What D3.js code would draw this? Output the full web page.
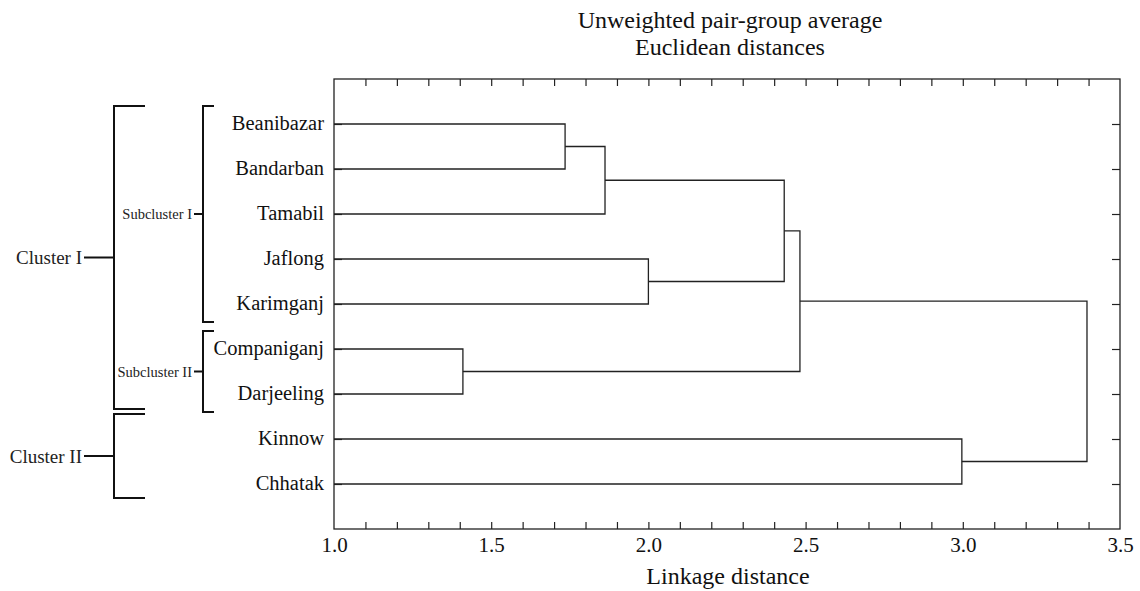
<!DOCTYPE html>
<html lang="en">
<head>
    <meta charset="UTF-8">
    <style>
        body { margin: 0; background: #fff; }
        svg { font-family: "Liberation Serif", "Times New Roman", serif; }
        .frame { fill: none; stroke: #222; stroke-width: 1.3px; }
        .link { fill: none; stroke: #222; stroke-width: 1.3px; }
        .bracket { fill: none; stroke: #111; stroke-width: 2px; }
        .axis path { display: none; }
        .axis line { stroke: #222; stroke-width: 1.2px; }
    </style>
</head>
<body>
    <svg width="1140" height="591"></svg>
    <script src="https://cdn.jsdelivr.net/npm/d3@7"></script>
    <script>

        // leaves, top to bottom
        var leaves = ["Beanibazar", "Bandarban", "Tamabil", "Jaflong", "Karimganj",
                      "Companiganj", "Darjeeling", "Kinnow", "Chhatak"];

        // merges: children (leaf index or "m" + merge index) and linkage distance
        var mergeLeft  = [0,     "m0",  3,     "m1",  5,     "m3",  7,     "m5"];
        var mergeRight = [1,     2,     4,     "m2",  6,     "m4",  8,     "m6"];
        var mergeDist  = [1.735, 1.862, 2.0,   2.432, 1.41,  2.482, 2.997, 3.395];

        var xTicks = [1.0, 1.5, 2.0, 2.5, 3.0, 3.5];

        var titleLines = ["Unweighted pair-group average", "Euclidean distances"];
        var xTitle = "Linkage distance";

        // groups drawn as brackets on the left: first leaf, last leaf
        var subclusters = [
            {label: "Subcluster I", from: 0, to: 4},
            {label: "Subcluster II", from: 5, to: 6}
        ];
        var clusters = [
            {label: "Cluster I", from: 0, to: 6},
            {label: "Cluster II", from: 7, to: 8}
        ];

        // bracket overhang above first / below last leaf, px
        var subPad = [[18, 18], [18, 18]];
        var clusterPad = [[18, 15], [25, 14]];

        var svg = d3.select("svg"),
            margin = {top: 79, right: 20, bottom: 62, left: 334},
            width = +svg.attr("width") - margin.left - margin.right,
            height = +svg.attr("height") - margin.top - margin.bottom,
            g = svg.append("g").attr("transform", "translate(" + margin.left + "," + margin.top + ")");

        var x = d3.scaleLinear().domain([1.0, 3.5]).range([0, width]);
        var y = d3.scaleLinear().domain([0, leaves.length + 1]).range([0, height]);

        // frame
        g.append("rect").attr("class", "frame")
            .attr("width", width).attr("height", height);

        // minor ticks, every 0.1, inside the frame top and bottom
        var minor = d3.range(11, 35).map(function(d) { return d / 10; });
        g.append("g").attr("class", "axis")
            .attr("transform", "translate(0," + height + ")")
            .call(d3.axisTop(x).tickValues(minor).tickSize(7).tickFormat(""));
        g.append("g").attr("class", "axis")
            .call(d3.axisBottom(x).tickValues(minor).tickSize(7).tickFormat(""));

        // tick labels
        var xAxis = g.append("g").attr("class", "axis")
            .attr("transform", "translate(0," + height + ")")
            .call(d3.axisBottom(x).tickValues(xTicks).tickSize(0).tickPadding(8)
                .tickFormat(d3.format(".1f")));
        xAxis.selectAll("text")
            .style("font-family", "'Liberation Serif', serif")
            .style("font-size", "21px")
            .attr("fill", "#111");

        // leaf ticks left and right
        var leafPos = leaves.map(function(d, i) { return i + 1; });
        g.append("g").attr("class", "axis")
            .call(d3.axisRight(y).tickValues(leafPos).tickSize(8).tickFormat(""));
        g.append("g").attr("class", "axis")
            .attr("transform", "translate(" + width + ",0)")
            .call(d3.axisLeft(y).tickValues(leafPos).tickSize(8).tickFormat(""));

        // leaf labels
        g.selectAll(".leaf")
            .data(leaves)
            .enter().append("text")
            .attr("class", "leaf")
            .attr("x", -10)
            .attr("y", function(d, i) { return y(i + 1); })
            .attr("dy", "0.3em")
            .attr("text-anchor", "end")
            .style("font-size", "20.5px")
            .attr("fill", "#111")
            .text(function(d) { return d; });

        // build dendrogram nodes
        var nodes = [];
        function node(ref) {
            if (typeof ref === "number") return {pos: ref + 1, dist: 1.0};
            return nodes[+ref.slice(1)];
        }
        mergeDist.forEach(function(d, i) {
            var a = node(mergeLeft[i]), b = node(mergeRight[i]);
            nodes.push({a: a, b: b, dist: d, pos: (a.pos + b.pos) / 2});
        });

        g.selectAll(".link")
            .data(nodes)
            .enter().append("path")
            .attr("class", "link")
            .attr("d", function(d) {
                return "M" + x(d.a.dist) + "," + y(d.a.pos) +
                    "H" + x(d.dist) +
                    "V" + y(d.b.pos) +
                    "H" + x(d.b.dist);
            });

        // brackets on the left (page coordinates)
        function bracket(list, pads, bx, armLen, tickLen, fontSize) {
            list.forEach(function(c, i) {
                var y0 = margin.top + y(c.from + 1) - pads[i][0],
                    y1 = margin.top + y(c.to + 1) + pads[i][1],
                    ym = (y0 + y1) / 2;
                svg.append("path").attr("class", "bracket")
                    .attr("d", "M" + (bx + armLen) + "," + y0 + "H" + bx + "V" + y1 + "H" + (bx + armLen));
                svg.append("path").attr("class", "bracket")
                    .attr("d", "M" + (bx - tickLen) + "," + ym + "H" + bx);
                svg.append("text")
                    .attr("x", bx - tickLen - 2)
                    .attr("y", ym)
                    .attr("dy", "0.35em")
                    .attr("text-anchor", "end")
                    .style("font-size", fontSize + "px")
                    .attr("fill", "#222")
                    .text(c.label);
            });
        }
        bracket(subclusters, subPad, 203, 11, 9, 14.5);
        bracket(clusters, clusterPad, 114, 31, 30, 19);

        // titles
        svg.selectAll(".title")
            .data(titleLines)
            .enter().append("text")
            .attr("x", margin.left + width / 2 + 3)
            .attr("y", function(d, i) { return 28 + i * 27; })
            .attr("text-anchor", "middle")
            .style("font-size", "24px")
            .attr("fill", "#111")
            .text(function(d) { return d; });

        svg.append("text")
            .attr("x", margin.left + width / 2 + 1)
            .attr("y", 584)
            .attr("text-anchor", "middle")
            .style("font-size", "24px")
            .attr("fill", "#111")
            .text(xTitle);
    </script>
</body>
</html>
